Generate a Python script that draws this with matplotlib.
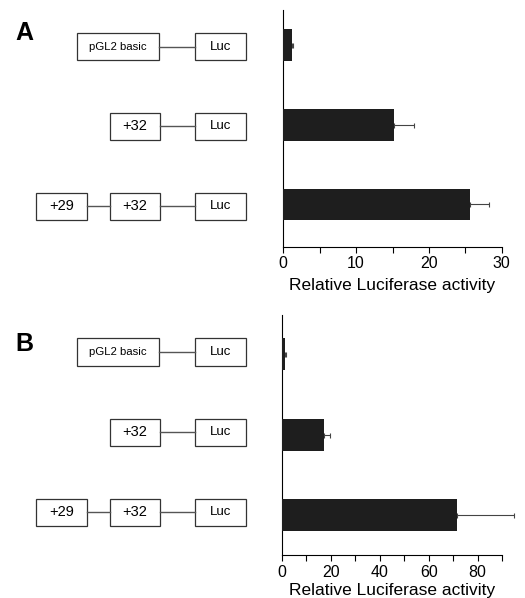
import matplotlib.pyplot as plt
from matplotlib.patches import Rectangle

plt.rcParams['font.family'] = ['Liberation Sans', 'DejaVu Sans']

# constructs (top to bottom)
constructs = [['pGL2 basic', 'Luc'], ['+32', 'Luc'], ['+29', '+32', 'Luc']]

# panel A values
valsA = [1.15, 15.2, 25.7]
errA = [0.25, 2.7, 2.5]
# panel B values
valsB = [1.2, 17.0, 71.4]
errB = [0.4, 2.6, 23.5]

# box x-extents in pixels for each label
box_x = {'pGL2 basic': (76.7, 159.0), '+32': (110.0, 160.3), '+29': (36.3, 87.3), 'Luc': (195.3, 246.0)}
box_fs = {'pGL2 basic': 8.2, '+32': 10.5, '+29': 10.5, 'Luc': 9.5}

W, H = 525, 598
fig = plt.figure(figsize=(W / 100, H / 100), dpi=100)


def ax_px(x0, y0, x1, y1):
    return fig.add_axes([x0 / W, 1 - y1 / H, (x1 - x0) / W, (y1 - y0) / H])


def panel(bx, vals, errs, xmax, major, minor, ylim, dy, letter, ly, lx, lpad):
    ax = ax_px(bx[0], bx[1], bx[2], bx[3])
    ypos = list(range(len(vals)))
    ax.barh(ypos, vals, height=0.4, color='#1e1e1e', zorder=3)
    ax.errorbar(vals, ypos, xerr=[[0] * len(errs), errs], fmt='none', zorder=2,
                ecolor='#444444', elinewidth=0.8, capsize=1.8, capthick=0.8, clip_on=False)
    ax.set_xlim(0, xmax)
    ax.set_ylim(ylim)
    ax.spines['top'].set_visible(False)
    ax.spines['right'].set_visible(False)
    ax.spines['left'].set_linewidth(0.8)
    ax.spines['bottom'].set_linewidth(0.8)
    ax.set_yticks([])
    ax.set_xticks(major)
    ax.set_xticks(minor, minor=True)
    ax.tick_params(axis='x', which='both', length=4, width=0.8, labelsize=11.5, pad=3)
    ax.set_xlabel('Relative Luciferase activity', fontsize=12.5, labelpad=lpad)

    # construct diagrams
    dax = fig.add_axes([0, ax.get_position().y0, ax.get_position().x0, ax.get_position().height])
    dax.set_xlim(0, bx[0])
    dax.set_ylim(ylim)
    dax.axis('off')
    hh = 0.17
    for i, row in enumerate(constructs):
        y = i + dy
        prev = None
        for name in row:
            x0, x1 = box_x[name]
            if prev is not None:
                dax.plot([prev, x0], [y, y], color='#555555', lw=1.0)
            dax.add_patch(Rectangle((x0, y - hh), x1 - x0, 2 * hh, fill=False,
                                    edgecolor='#333333', lw=0.9))
            dax.text((x0 + x1) / 2, y, name, ha='center', va='center', fontsize=box_fs[name])
            prev = x1
    fig.text(lx / W, 1 - ly / H, letter, fontsize=18, fontweight='bold', ha='left', va='center')
    return ax


panel((283.3, 10, 501.7, 246.7), valsA, errA, 30, [0, 10, 20, 30], list(range(0, 31, 5)),
      (2.53, -0.44), 0.02, 'A', 33, 15, 5)
panel((282.0, 315, 502.1, 555), valsB, errB, 90, [0, 20, 40, 60, 80], list(range(0, 91, 10)),
      (2.5, -0.49), -0.03, 'B', 344, 15, 2)

plt.savefig('out.png', dpi=100)
